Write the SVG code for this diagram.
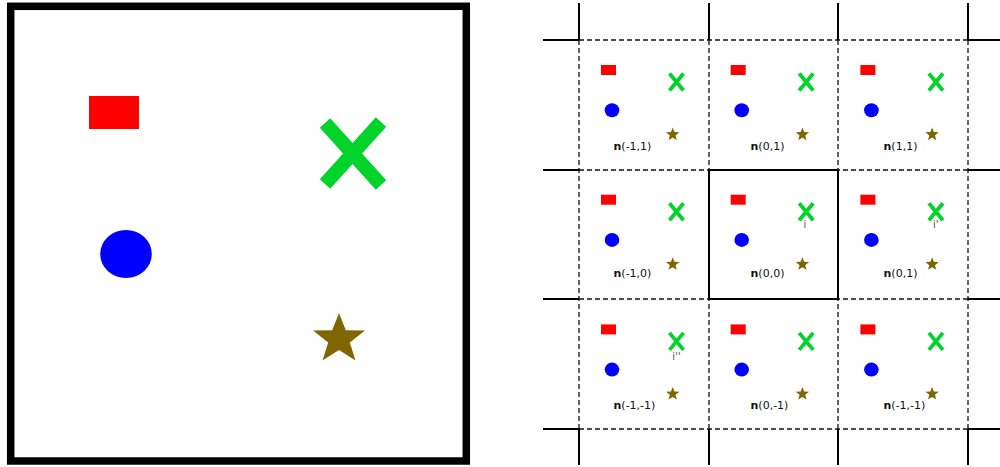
<svg xmlns="http://www.w3.org/2000/svg" width="1000" height="467" viewBox="0 0 1000 467">
  <defs>
    <style>
      .red { fill: #ff0000; }
      .blue { fill: #0000ff; }
      .star { fill: #806600; }
      .cross { stroke: #00d42a; fill: none; }
      .solid { stroke: #000; stroke-width: 2; fill: none; }
      .dash { stroke: #111; stroke-width: 1.3; stroke-dasharray: 5 3; fill: none; }
      .lbl { font-family: "DejaVu Sans", sans-serif; font-size: 11px; fill: #111; }
      .idx { font-family: "DejaVu Sans", sans-serif; font-size: 10px; fill: #555; }
    </style>
    <g id="cellContent">
      <rect class="red" x="22" y="25" width="15" height="10"/>
      <ellipse class="blue" cx="33" cy="70.2" rx="7.3" ry="7"/>
      <path class="cross" stroke-width="3.8" d="M90.5 33.5 L104.5 50.5 M104.5 33.5 L90.5 50.5"/>
      <polygon class="star" points="93.7,87.5 95.46,92.07 100.36,92.34 96.55,95.43 97.81,100.16 93.7,97.5 89.59,100.16 90.85,95.43 87.04,92.34 91.94,92.07"/>
    </g>
  </defs>

  <g id="unit-cell">
    <rect x="10.7" y="6.3" width="455.6" height="454.7" fill="#fff" stroke="#000" stroke-width="7.5"/>
    <rect class="red" x="89" y="96" width="50" height="33"/>
    <path class="cross" stroke-width="14" d="M325 123 L381 185 M381 122 L325 184"/>
    <ellipse class="blue" cx="126" cy="254" rx="25.8" ry="24"/>
    <polygon class="star" points="339,313 345.8,330.3 365,330.6 349.8,342.6 355.5,360.5 339,350 322.5,360.5 328.2,342.6 313,330.6 332.2,330.3"/>
  </g>

  <g id="connectors">
    <g class="dash">
      <line x1="579" y1="40" x2="968" y2="40"/>
      <line x1="579" y1="170" x2="968" y2="170"/>
      <line x1="579" y1="299" x2="968" y2="299"/>
      <line x1="579" y1="429" x2="968" y2="429"/>
      <line x1="579" y1="40" x2="579" y2="429"/>
      <line x1="709" y1="40" x2="709" y2="429"/>
      <line x1="838" y1="40" x2="838" y2="429"/>
      <line x1="968" y1="40" x2="968" y2="429"/>
    </g>
    <g class="solid">
      <rect x="709" y="170" width="129" height="129"/>
      <line x1="579" y1="3" x2="579" y2="40"/>
      <line x1="709" y1="3" x2="709" y2="40"/>
      <line x1="838" y1="3" x2="838" y2="40"/>
      <line x1="968" y1="3" x2="968" y2="40"/>
      <line x1="579" y1="429" x2="579" y2="465"/>
      <line x1="709" y1="429" x2="709" y2="465"/>
      <line x1="838" y1="429" x2="838" y2="465"/>
      <line x1="968" y1="429" x2="968" y2="465"/>
      <line x1="543" y1="40" x2="579" y2="40"/>
      <line x1="543" y1="170" x2="579" y2="170"/>
      <line x1="543" y1="299" x2="579" y2="299"/>
      <line x1="543" y1="429" x2="579" y2="429"/>
      <line x1="968" y1="40" x2="1000" y2="40"/>
      <line x1="968" y1="170" x2="1000" y2="170"/>
      <line x1="968" y1="299" x2="1000" y2="299"/>
      <line x1="968" y1="429" x2="1000" y2="429"/>
    </g>
  </g>

  <g id="cell-m1-p1" transform="translate(579,40)"><use href="#cellContent"/></g>
  <g id="cell-0-p1" transform="translate(708.7,40)"><use href="#cellContent"/></g>
  <g id="cell-p1-p1" transform="translate(838.4,40)"><use href="#cellContent"/></g>
  <g id="cell-m1-0" transform="translate(579,169.7)"><use href="#cellContent"/></g>
  <g id="cell-0-0" transform="translate(708.7,169.7)">
    <text class="idx" x="96.3" y="58" text-anchor="middle">i</text>
    <use href="#cellContent"/>
  </g>
  <g id="cell-p1-0" transform="translate(838.4,169.7)">
    <text class="idx" x="97.3" y="58" text-anchor="middle">i'</text>
    <use href="#cellContent"/>
  </g>
  <g id="cell-m1-m1" transform="translate(579,299.4)">
    <text class="idx" x="97.5" y="60.5" text-anchor="middle">i''</text>
    <use href="#cellContent"/>
  </g>
  <g id="cell-0-m1" transform="translate(708.7,299.4)"><use href="#cellContent"/></g>
  <g id="cell-p1-m1" transform="translate(838.4,299.4)"><use href="#cellContent"/></g>

  <g id="labels">
    <text class="lbl" x="613.5" y="150"><tspan font-weight="bold">n</tspan>(-1,1)</text>
    <text class="lbl" x="750.5" y="150"><tspan font-weight="bold">n</tspan>(0,1)</text>
    <text class="lbl" x="883.5" y="150"><tspan font-weight="bold">n</tspan>(1,1)</text>
    <text class="lbl" x="613.5" y="277"><tspan font-weight="bold">n</tspan>(-1,0)</text>
    <text class="lbl" x="750.5" y="277"><tspan font-weight="bold">n</tspan>(0,0)</text>
    <text class="lbl" x="883.5" y="277"><tspan font-weight="bold">n</tspan>(0,1)</text>
    <text class="lbl" x="613.5" y="409"><tspan font-weight="bold">n</tspan>(-1,-1)</text>
    <text class="lbl" x="750.5" y="409"><tspan font-weight="bold">n</tspan>(0,-1)</text>
    <text class="lbl" x="883.5" y="409"><tspan font-weight="bold">n</tspan>(-1,-1)</text>
  </g>
</svg>
